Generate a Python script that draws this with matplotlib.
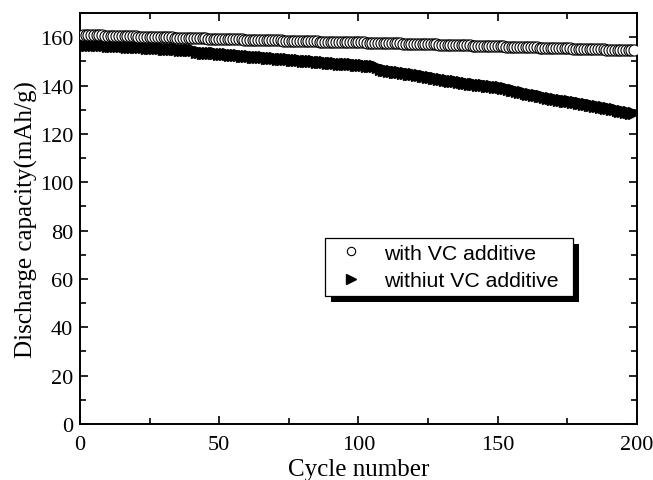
import numpy as np
import matplotlib
matplotlib.use("Agg")
import matplotlib.pyplot as plt
from matplotlib.patches import Rectangle
from matplotlib.ticker import MultipleLocator

# discharge capacity (mAh/g) for cycles 1..199
cycles = list(range(1, 200))

with_vc = [
    160.9, 160.9, 160.8, 160.8, 160.8, 160.7, 160.7, 160.7, 160.6, 160.6,
    160.6, 160.5, 160.5, 160.5, 160.4, 160.4, 160.4, 160.3, 160.3, 160.3,
    160.2, 160.2, 160.2, 160.1, 160.1, 160.1, 160.0, 160.0, 160.0, 159.9,
    159.9, 159.9, 159.9, 159.8, 159.8, 159.8, 159.7, 159.7, 159.7, 159.6,
    159.6, 159.6, 159.5, 159.5, 159.5, 159.4, 159.4, 159.4, 159.3, 159.3,
    159.3, 159.3, 159.2, 159.2, 159.2, 159.1, 159.1, 159.1, 159.0, 159.0,
    159.0, 159.0, 158.9, 158.9, 158.9, 158.8, 158.8, 158.8, 158.7, 158.7,
    158.7, 158.7, 158.6, 158.6, 158.6, 158.5, 158.5, 158.5, 158.4, 158.4,
    158.4, 158.4, 158.3, 158.3, 158.3, 158.2, 158.2, 158.2, 158.1, 158.1,
    158.1, 158.1, 158.0, 158.0, 158.0, 157.9, 157.9, 157.9, 157.8, 157.8,
    157.8, 157.8, 157.7, 157.7, 157.7, 157.6, 157.6, 157.6, 157.5, 157.5,
    157.5, 157.5, 157.4, 157.4, 157.4, 157.3, 157.3, 157.3, 157.2, 157.2,
    157.2, 157.2, 157.1, 157.1, 157.1, 157.0, 157.0, 157.0, 156.9, 156.9,
    156.9, 156.8, 156.8, 156.8, 156.7, 156.7, 156.7, 156.6, 156.6, 156.6,
    156.5, 156.5, 156.5, 156.4, 156.4, 156.4, 156.3, 156.3, 156.3, 156.2,
    156.2, 156.2, 156.1, 156.1, 156.1, 156.0, 156.0, 156.0, 155.9, 155.9,
    155.9, 155.8, 155.8, 155.8, 155.7, 155.7, 155.7, 155.6, 155.6, 155.6,
    155.5, 155.5, 155.5, 155.4, 155.4, 155.4, 155.3, 155.3, 155.3, 155.2,
    155.2, 155.2, 155.1, 155.1, 155.1, 155.0, 155.0, 155.0, 154.9, 154.9,
    154.9, 154.8, 154.8, 154.8, 154.7, 154.7, 154.7, 154.6, 154.6,
]

without_vc = [
    157.0, 156.9, 156.9, 156.8, 156.8, 156.7, 156.7, 156.6, 156.6, 156.5,
    156.5, 156.4, 156.4, 156.3, 156.2, 156.2, 156.1, 156.1, 156.0, 155.9,
    155.9, 155.8, 155.8, 155.7, 155.6, 155.6, 155.5, 155.5, 155.4, 155.3,
    155.3, 155.2, 155.1, 155.1, 155.0, 154.9, 154.9, 154.8, 154.7, 154.7,
    154.6, 153.8, 153.7, 153.6, 153.6, 153.5, 153.4, 153.4, 153.3, 153.2,
    153.1, 153.0, 152.9, 152.8, 152.7, 152.6, 152.5, 152.4, 152.3, 152.2,
    152.1, 152.0, 151.9, 151.8, 151.7, 151.6, 151.5, 151.4, 151.3, 151.2,
    151.1, 151.0, 150.9, 150.9, 150.8, 150.7, 150.6, 150.5, 150.4, 150.3,
    150.2, 150.1, 150.0, 150.0, 149.9, 149.8, 149.7, 149.6, 149.5, 149.4,
    149.3, 149.2, 149.1, 149.1, 149.0, 148.9, 148.8, 148.7, 148.6, 148.5,
    148.4, 148.3, 148.2, 148.1, 148.0, 147.9, 147.6, 146.8, 146.5, 146.3,
    146.1, 145.9, 145.8, 145.6, 145.4, 145.3, 145.1, 144.9, 144.8, 144.6,
    144.4, 144.2, 144.0, 143.8, 143.6, 143.4, 143.2, 143.0, 142.8, 142.6,
    142.4, 142.2, 142.0, 141.8, 141.7, 141.5, 141.3, 141.2, 141.0, 140.8,
    140.7, 140.5, 140.4, 140.2, 140.1, 139.9, 139.8, 139.6, 139.5, 139.3,
    139.2, 139.0, 138.9, 138.5, 138.2, 138.0, 137.7, 137.5, 137.2, 137.0,
    136.7, 136.5, 136.2, 136.0, 135.7, 135.5, 135.2, 135.0, 134.8, 134.6,
    134.4, 134.2, 134.0, 133.8, 133.6, 133.4, 133.2, 133.0, 132.8, 132.6,
    132.4, 132.2, 132.0, 131.8, 131.6, 131.4, 131.2, 131.0, 130.7, 130.5,
    130.3, 130.1, 129.8, 129.6, 129.4, 129.2, 129.0, 128.8, 128.6,
]

labels = ["with VC additive", "withiut VC additive"]

plt.rcParams['font.family'] = ['Liberation Serif', 'DejaVu Serif']

fig = plt.figure(figsize=(6.53, 4.81), dpi=100)
ax = fig.add_axes([0.1225, 0.1164, 0.853, 0.8545])

ax.plot(cycles, without_vc, linestyle='none', marker='>', markersize=9,
        color='black', label=labels[1], zorder=2)
ax.plot(cycles, with_vc, linestyle='none', marker='o', markersize=8,
        markerfacecolor='white', markeredgecolor='black', markeredgewidth=0.8,
        label=labels[0], zorder=3)

ax.set_xlim(0, 200)
ax.set_ylim(0, 170)
ax.xaxis.set_major_locator(MultipleLocator(50))
ax.xaxis.set_minor_locator(MultipleLocator(25))
ax.yaxis.set_major_locator(MultipleLocator(20))
ax.yaxis.set_minor_locator(MultipleLocator(10))
ax.tick_params(which='both', direction='in', top=True, right=True,
               labelsize=16, width=1.2, pad=5)
ax.tick_params(axis='x', which='both', pad=8)
ax.tick_params(which='major', length=6)
ax.tick_params(which='minor', length=4)
for s in ax.spines.values():
    s.set_linewidth(1.4)

ax.set_xlabel('Cycle number', fontsize=18, labelpad=3)
ax.set_ylabel('Discharge capacity(mAh/g)', fontsize=18, labelpad=1)

# legend box stretched to the reference width, with a solid offset shadow
h, l = ax.get_legend_handles_labels()
leg = ax.legend(h[::-1], l[::-1], loc='upper left',
                bbox_to_anchor=(0.44, 0.2526, 0.445, 0.2), mode='expand',
                borderaxespad=0, frameon=True, fancybox=False,
                edgecolor='black', framealpha=1,
                prop={'family': 'Liberation Sans', 'size': 15.3},
                handletextpad=0.6, borderpad=0.27, labelspacing=0.4,
                handlelength=1.9, markerscale=0.75)
leg.get_frame().set_linewidth(0.9)
leg.set_zorder(6)

fig.canvas.draw()
bb = leg.get_window_extent()
off = 6
shadow = Rectangle((bb.x0 + off, bb.y0 - off), bb.width, bb.height,
                   transform=None, facecolor='black', edgecolor='none',
                   zorder=5)
ax.add_artist(shadow)

fig.savefig('out.png', dpi=100)
